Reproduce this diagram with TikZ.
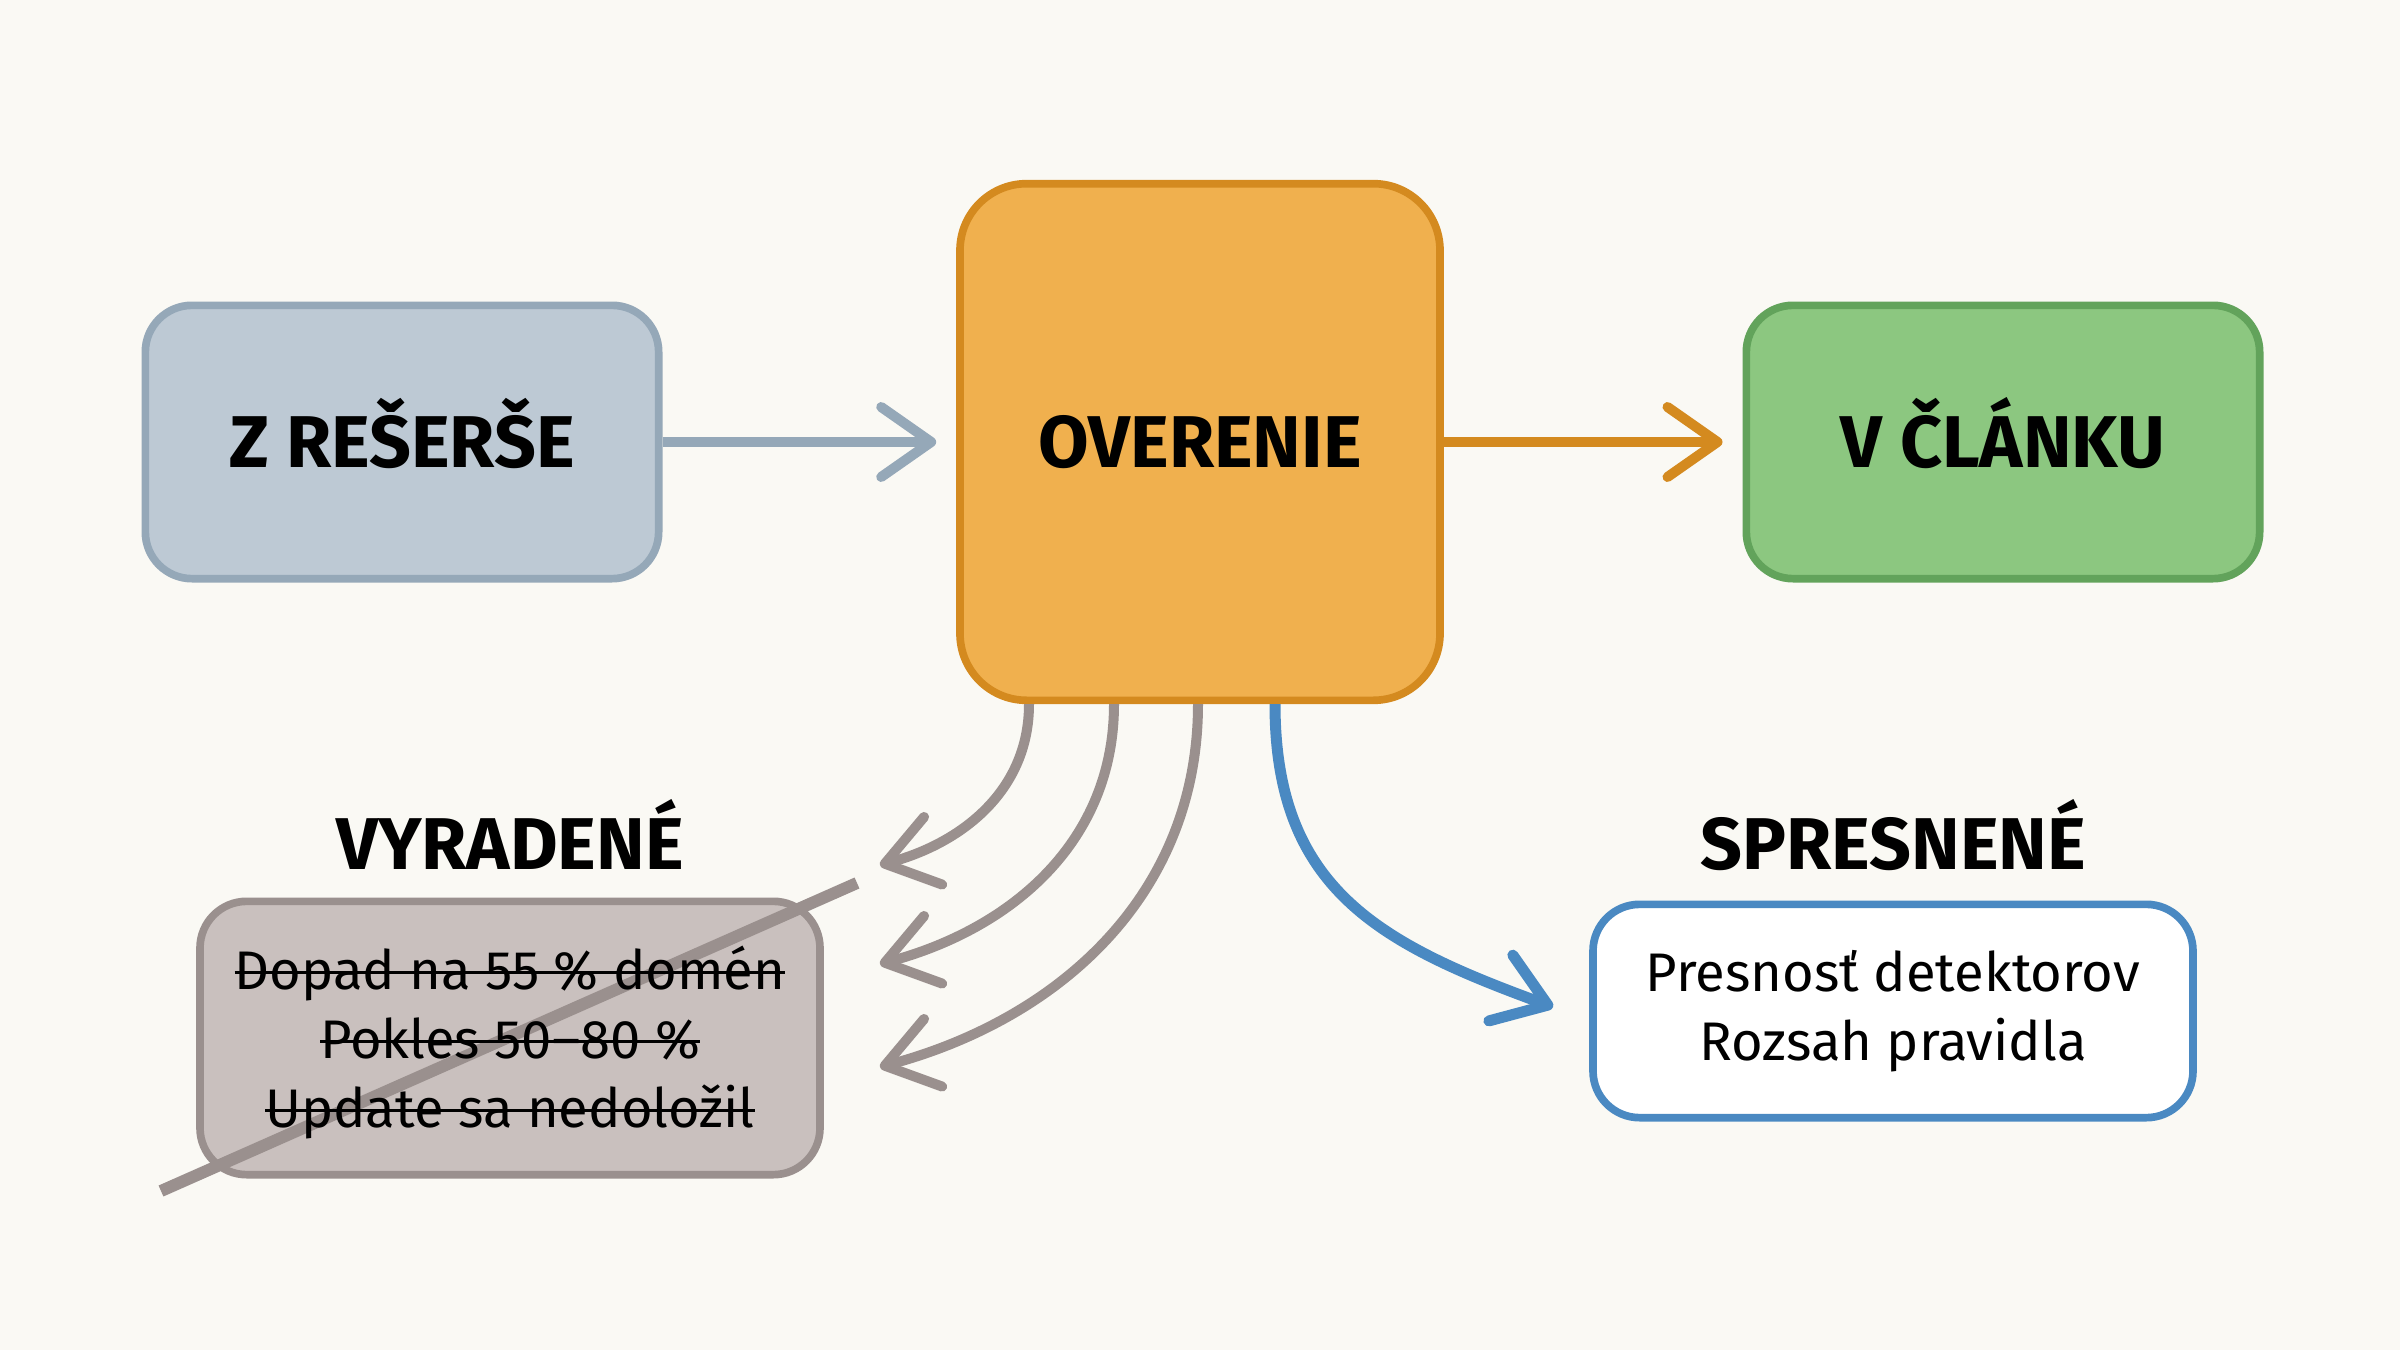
\documentclass[tikz,border=0pt]{standalone}
\usepackage{fontspec}
\setmainfont{Fira Sans}
\usetikzlibrary{arrows.meta,calc}
\definecolor{bg}{HTML}{FAF9F4}
\definecolor{resF}{HTML}{BDC9D4}
\definecolor{resD}{HTML}{95A8B8}
\definecolor{overF}{HTML}{F0B04E}
\definecolor{overD}{HTML}{D48A1F}
\definecolor{clanF}{HTML}{8CC780}
\definecolor{clanD}{HTML}{62A35B}
\definecolor{vyrF}{HTML}{C9C0BE}
\definecolor{vyrD}{HTML}{9A908E}
\definecolor{spresD}{HTML}{4A89C2}
% struck-through line of text
\newsavebox{\strkbox}
\newcommand{\strk}[1]{\sbox{\strkbox}{#1}\rlap{\rule[0.3em]{\wd\strkbox}{0.9pt}}\usebox{\strkbox}}

\begin{document}
\begin{tikzpicture}[x=0.3pt, y=-0.3pt,
		box/.style={draw, line width=2.3pt, rounded corners=14pt, inner sep=0pt, align=center,
			font=\fontsize{16.3}{20.7}\selectfont},
		head/.style={font=\fontsize{22}{24}\selectfont\bfseries, text height=15.1pt, text depth=0pt},
		flow/.style={line width=3pt, -{Straight Barb[round, length=15pt, width=21pt]}}]
	% page
	\fill[bg] (0,0) rectangle (2400,1350);
	%%% main row
	\node[box, head, fill=resF, draw=resD, minimum width=154pt, minimum height=82pt] (Resers) at (402,442) {Z REŠERŠE};
	\node[box, head, fill=overF, draw=overD, minimum width=144pt, minimum height=155pt, rounded corners=20pt] (Over) at (1200,442) {OVERENIE};
	\node[box, head, fill=clanF, draw=clanD, minimum width=154pt, minimum height=82pt] (Clanok) at (2003,442) {V ČLÁNKU};
	\draw[flow, draw=resD, shorten >=6pt] (Resers) -- (Over);
	\draw[flow, draw=overD, shorten >=6pt] (Over) -- (Clanok);
	%%% left: discarded
	\node[head, anchor=base] (vyrLabel) at (510,869) {VYRADENÉ};
	\node[box, fill=vyrF, draw=vyrD, minimum width=186pt, minimum height=82pt] (Vyr) at (510,1038) {};
	\coordinate (x1) at (161,1191);
	\coordinate (x2) at (857,883);
	\draw[draw=vyrD, line width=3.6pt] (x1) -- (x2);
	\node[align=center, font=\fontsize{16.3}{20.7}\selectfont] (vyrText) at ([yshift=-1.5pt]Vyr.center) {\strk{Dopad na 55 \% domén}\\\strk{Pokles 50–80 \%}\\\strk{Update sa nedoložil}};
	\coordinate (d1) at (880,865);
	\coordinate (d2) at (880,964);
	\coordinate (d3) at (880,1067);
	\draw[flow, draw=vyrD] ([xshift=-171*0.3pt]Over.south) to[out=-90, in=15] (d1);
	\draw[flow, draw=vyrD] ([xshift=-86*0.3pt]Over.south) to[out=-90, in=15] (d2);
	\draw[flow, draw=vyrD] ([xshift=-2*0.3pt]Over.south) to[out=-90, in=15] (d3);
	%%% right: refined
	\node[head, anchor=base] (spresLabel) at (1893,869) {SPRESNENÉ};
	\node[box, fill=white, draw=spresD, minimum width=180pt, minimum height=64pt] (Spres) at (1893,1011) {Presnosť detektorov\\Rozsah pravidla};
	\coordinate (s1) at (1553,1007);
	\draw[flow, draw=spresD, line width=3.3pt] ([xshift=75*0.3pt]Over.south) to[out=-90, in=160, looseness=1.15] (s1);
\end{tikzpicture}
\end{document}
